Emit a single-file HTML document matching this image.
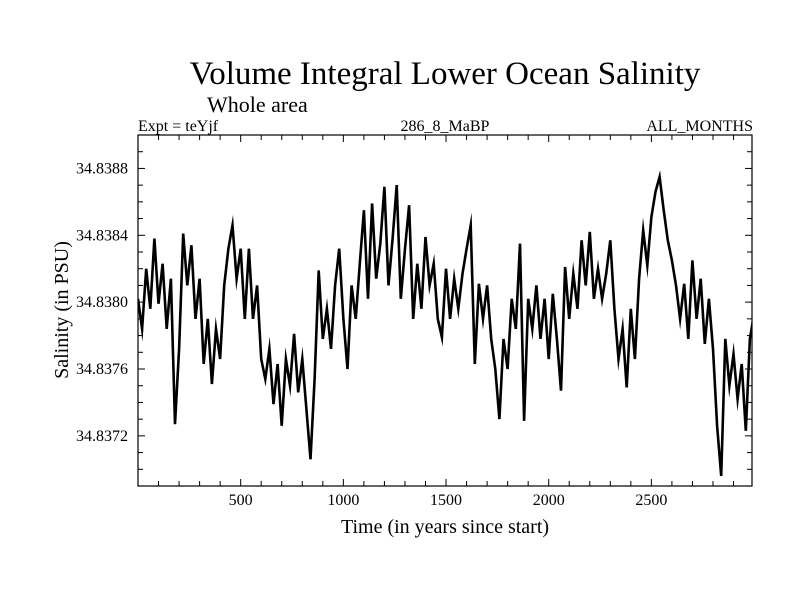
<!DOCTYPE html>
<html><head><meta charset="utf-8"><style>
html,body{margin:0;padding:0;background:#fff;}
svg{display:block;font-family:"Liberation Serif",serif;}
</style></head><body>
<svg id="chart" width="800" height="600" viewBox="0 0 800 600">
<text x="445" y="84" font-size="33" text-anchor="middle">Volume Integral Lower Ocean Salinity</text>
<text x="207" y="112" font-size="22">Whole area</text>
<text x="138" y="131" font-size="16">Expt = teYjf</text>
<text x="445" y="131" font-size="16" text-anchor="middle">286_8_MaBP</text>
<text x="753" y="131" font-size="16" text-anchor="end">ALL_MONTHS</text>
<text x="445" y="533" font-size="20" text-anchor="middle">Time (in years since start)</text>
<text transform="translate(68,310) rotate(-90)" font-size="20" text-anchor="middle">Salinity (in PSU)</text>
<defs><clipPath id="plotclip"><rect x="138" y="135" width="614" height="351"/></clipPath></defs>
<g id="ticks"></g>
<g id="series" clip-path="url(#plotclip)"></g>
<rect x="138" y="135" width="614" height="351" fill="none" stroke="#000" stroke-width="1.2"/>
</svg>
<script>
const yearStep = 20;
const salinityE4 = [380.2,378.4,382.0,379.6,383.8,379.9,382.3,378.4,381.4,372.7,
377.2,384.1,381.0,383.4,379.0,381.4,376.3,379.0,375.1,378.4,
376.6,381.0,383.2,384.6,381.4,383.2,379.0,383.2,379.0,381.0,
376.6,375.4,377.2,373.9,376.3,372.6,376.6,375.0,378.1,374.6,
376.6,373.6,370.6,375.4,381.9,377.8,379.6,377.2,381.0,383.2,
379.0,376.0,381.0,379.0,382.3,385.5,380.2,385.9,381.4,383.5,
386.9,381.0,383.8,387.0,380.2,383.2,385.8,379.0,382.3,379.6,
383.9,381.0,382.3,379.0,377.9,382.0,379.0,381.4,379.6,381.7,
383.2,384.6,376.3,381.1,379.0,381.0,377.8,376.0,373.0,377.8,
376.0,380.2,378.4,383.5,372.9,380.2,378.4,381.0,377.8,380.2,
376.6,380.5,377.8,374.7,382.1,379.0,381.7,379.6,383.7,381.0,
384.2,380.2,382.0,380.2,381.7,383.7,379.6,376.6,378.4,374.9,
379.6,376.6,381.4,384.3,382.2,385.1,386.6,387.5,385.5,383.7,
382.5,381.0,379.0,381.1,377.8,382.5,379.0,381.4,377.5,380.2,
377.2,372.6,369.6,377.8,375.0,376.9,374.2,376.3,372.3,377.8,379.3];
const yTickLabels = ["34.8372","34.8376","34.8380","34.8384","34.8388"];
const xTickLabels = ["500","1000","1500","2000","2500"];
const xDomain = [0, 2990], yDomain = [34.8369, 34.8390];
const L=138,R=752,T=135,B=486;
const sx = v => L + (v - xDomain[0]) / (xDomain[1]-xDomain[0]) * (R-L);
const sy = v => B - (v - yDomain[0]) / (yDomain[1]-yDomain[0]) * (B-T);
const NS="http://www.w3.org/2000/svg";
const svg=document.getElementById('chart');
const tg=document.getElementById('ticks');
function mk(tag,attrs,parent){const e=document.createElementNS(NS,tag);for(const k in attrs)e.setAttribute(k,attrs[k]);parent.appendChild(e);return e;}
for(let yr=100; yr<xDomain[1]; yr+=100){
  const x=sx(yr), major = yr%500===0, len= major?7:5;
  const t1=mk('line',{x1:x,x2:x,y1:B,y2:B-len,stroke:'#000','stroke-width':1},tg);
  
  
  const t2=mk('line',{x1:x,x2:x,y1:T,y2:T+len,stroke:'#000','stroke-width':1},tg);
  
  
}
xTickLabels.forEach(s=>{
  const t=mk('text',{x:sx(+s),y:505,'font-size':16,'text-anchor':'middle'},svg);
  t.textContent=s;
  
  
});
for(let k=0;k<=21;k++){
  const v=yDomain[0]+k*0.0001; const y=sy(v);
  if(y<T+0.5||y>B-0.5) continue;
  const major = (k-3)%4===0, len= major?7:5;
  const a=mk('line',{x1:L,x2:L+len,y1:y,y2:y,stroke:'#000','stroke-width':1},tg);
  
  
  const b=mk('line',{x1:R,x2:R-len,y1:y,y2:y,stroke:'#000','stroke-width':1},tg);
  
  
}
yTickLabels.forEach(s=>{
  const t=mk('text',{x:128,y:sy(+s)+5,'font-size':16,'text-anchor':'end'},svg);
  t.textContent=s;
  
  
});
const pts=salinityE4.map((v,i)=>sx(i*yearStep).toFixed(1)+','+sy(34.8+v*1e-4).toFixed(1)).join(' ');
const line=mk('polyline',{points:pts,fill:'none',stroke:'#000','stroke-width':2.6,'stroke-linejoin':'miter','stroke-miterlimit':10},document.getElementById('series'));


</script>
</body></html>
